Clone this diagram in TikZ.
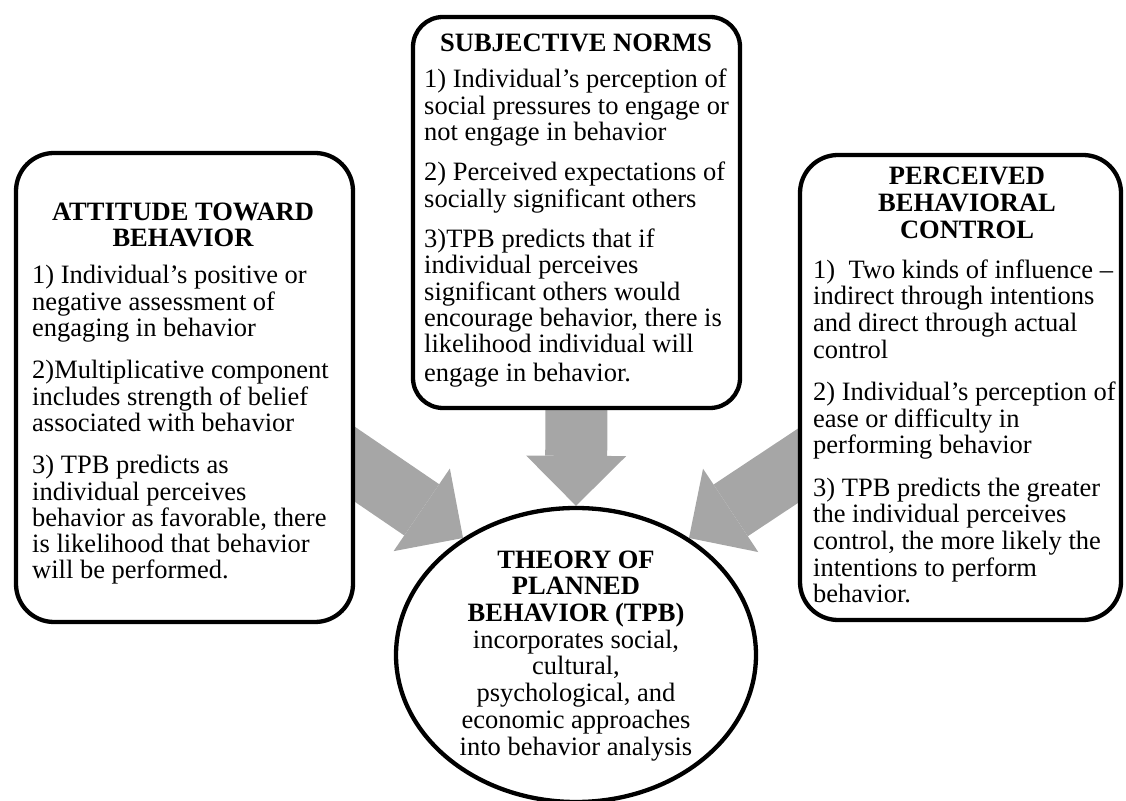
\documentclass[tikz,border=0pt]{standalone}
\usepackage{fontspec}
\setmainfont{Liberation Serif}
\usetikzlibrary{arrows.meta,shapes.geometric,backgrounds,calc}
\definecolor{arrgray}{RGB}{166,166,166}
\begin{document}
\begin{tikzpicture}[x=1pt,y=1pt,
  box/.style={rectangle, draw=black, line width=4.3pt, fill=white, rounded corners=38pt, inner sep=0pt},
  bodytxt/.style={font=\fontsize{26.5}{26.3}\selectfont, align=left, inner sep=0pt, anchor=base west},
  headtxt/.style={font=\fontsize{26.5}{26.3}\selectfont\bfseries, align=center, inner sep=0pt, anchor=base},
  bigarrow/.style={draw=arrgray, line width=62pt, line cap=butt, -{Triangle[width=100pt,length=50pt,line width=0pt]}}
]
\useasboundingbox (0,0) rectangle (1126,800);

% boxes
\node[box, minimum width=337pt, minimum height=469pt] (L) at (184.5,412.5) {};
\node[box, rounded corners=30pt, minimum width=327pt, minimum height=391pt] (M) at (576.5,587.5) {};
\node[box, minimum width=321pt, minimum height=465pt] (R) at (960.5,412.5) {};
\node[ellipse, draw=black, line width=4.3pt, fill=white, inner sep=0pt, minimum width=360pt, minimum height=294pt] (E) at (576,145) {};

% arrows behind
\begin{scope}[on background layer]
\draw[bigarrow] ([shift={(-33,-54.5)}]L.east) -- (E.134);
\draw[bigarrow] ([yshift=20pt]M.south) -- (E.north);
\draw[bigarrow] ([shift={(33,-56.5)}]R.west) -- (E.46);
\end{scope}

% left box text (anchored at the baseline of the last line)
\node[headtxt] (Lh) at (183,553) {ATTITUDE TOWARD\\BEHAVIOR};
\node[bodytxt] (Lb) at (32,221) {1) Individual’s positive or\\negative assessment of\\engaging in behavior\\[16pt]2)Multiplicative component\\includes strength of belief\\associated with behavior\\[16pt]3) TPB predicts as\\individual perceives\\behavior as favorable, there\\is likelihood that behavior\\will be performed.};

% middle box text
\node[headtxt] (Mh) at (576,748) {SUBJECTIVE NORMS};
\node[bodytxt] (Mb) at (424,418) {1) Individual’s perception of\\social pressures to engage or\\not engage in behavior\\[14pt]2) Perceived expectations of\\socially significant others\\[14pt]3)TPB predicts that if\\individual perceives\\significant others would\\encourage behavior, there is\\likelihood individual will\\[3pt]engage in behavior.};

% right box text
\node[headtxt, font=\fontsize{26.5}{27}\selectfont\bfseries] (Rh) at (967,561) {PERCEIVED\\BEHAVIORAL\\CONTROL};
\node[bodytxt, font=\fontsize{26.5}{26.7}\selectfont] (Rb) at (813,197) {1)\ \ Two kinds of influence –\\indirect through intentions\\and direct through actual\\control\\[15.5pt]2) Individual’s perception of\\ease or difficulty in\\performing behavior\\[15.5pt]3) TPB predicts the greater\\the individual perceives\\control, the more likely the\\intentions to perform\\behavior.};

% ellipse text
\node[headtxt, font=\fontsize{26.5}{26.7}\selectfont] (Et) at (576,45) {\textbf{THEORY OF}\\\textbf{PLANNED}\\\textbf{BEHAVIOR (TPB)}\\incorporates social,\\cultural,\\psychological, and\\economic approaches\\into behavior analysis};
\end{tikzpicture}
\end{document}
